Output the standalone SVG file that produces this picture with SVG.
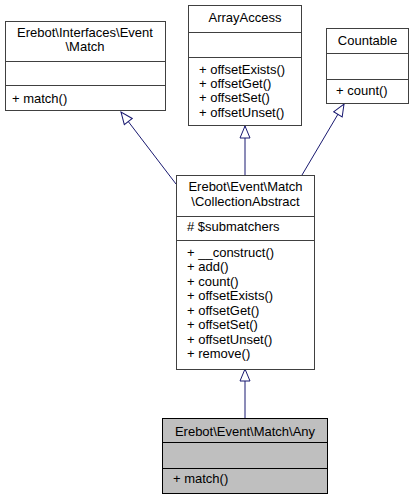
<svg xmlns="http://www.w3.org/2000/svg" width="413" height="500" viewBox="0 0 413 500">
<style>
text{font-family:"Liberation Sans",Arial,sans-serif;font-size:13px;fill:#000}
.c{text-anchor:middle}
.box{fill:#fff;stroke:#404040;stroke-width:1}
.cur{fill:#bfbfbf;stroke:#000;stroke-width:1}
.sep{stroke:#404040;stroke-width:1}
.edge{stroke:#191970;stroke-width:1;fill:none;marker-end:url(#tri)}
</style>
<defs>
<marker id="tri" markerUnits="userSpaceOnUse" markerWidth="14" markerHeight="12" viewBox="-1 -1 14 12" refX="12" refY="5" orient="auto">
<path d="M0,0 L12,5 L0,10 Z" fill="#fff" stroke="#191970" stroke-width="1"/>
</marker>
</defs>
<rect width="413" height="500" fill="#fff"/>
<g id="edges">
<path class="edge" d="M176,184 L121,112"/>
<path class="edge" d="M245,175 L245,126"/>
<path class="edge" d="M302,175 L344,104"/>
<path class="edge" d="M245,418 L245,369"/>
</g>
<g id="iface_match">
<rect class="box" x="5.5" y="21.5" width="160" height="89"/>
<text class="c" x="85" y="37">Erebot\Interfaces\Event</text>
<text class="c" x="85" y="51">\Match</text>
<line class="sep" x1="5.5" y1="61.5" x2="165.5" y2="61.5"/>
<line class="sep" x1="5.5" y1="85.5" x2="165.5" y2="85.5"/>
<text x="12" y="103">+ match()</text>
</g>
<g id="arrayaccess">
<rect class="box" x="188.5" y="5.5" width="113" height="120"/>
<text class="c" x="245" y="22">ArrayAccess</text>
<line class="sep" x1="188.5" y1="32.5" x2="301.5" y2="32.5"/>
<line class="sep" x1="188.5" y1="57.5" x2="301.5" y2="57.5"/>
<text x="199" y="74">+ offsetExists()</text>
<text x="199" y="88">+ offsetGet()</text>
<text x="199" y="102">+ offsetSet()</text>
<text x="199" y="117">+ offsetUnset()</text>
</g>
<g id="countable">
<rect class="box" x="326.5" y="28.5" width="82" height="75"/>
<text class="c" x="367.5" y="45">Countable</text>
<line class="sep" x1="326.5" y1="53.5" x2="408.5" y2="53.5"/>
<line class="sep" x1="326.5" y1="79.5" x2="408.5" y2="79.5"/>
<text x="336" y="95">+ count()</text>
</g>
<g id="collection">
<rect class="box" x="176.5" y="175.5" width="138" height="194"/>
<text class="c" x="245.5" y="191">Erebot\Event\Match</text>
<text class="c" x="245.5" y="206">\CollectionAbstract</text>
<line class="sep" x1="176.5" y1="216.5" x2="314.5" y2="216.5"/>
<text x="187" y="231"># $submatchers</text>
<line class="sep" x1="176.5" y1="240.5" x2="314.5" y2="240.5"/>
<text x="187" y="257">+ __construct()</text>
<text x="187" y="271">+ add()</text>
<text x="187" y="286">+ count()</text>
<text x="187" y="300">+ offsetExists()</text>
<text x="187" y="315">+ offsetGet()</text>
<text x="187" y="329">+ offsetSet()</text>
<text x="187" y="344">+ offsetUnset()</text>
<text x="187" y="358">+ remove()</text>
</g>
<g id="any">
<rect class="cur" x="162.5" y="418.5" width="165" height="75"/>
<text class="c" x="245" y="436">Erebot\Event\Match\Any</text>
<line x1="162.5" y1="442.5" x2="327.5" y2="442.5" stroke="#000"/>
<line x1="162.5" y1="468.5" x2="327.5" y2="468.5" stroke="#000"/>
<text x="173" y="483">+ match()</text>
</g>
</svg>
